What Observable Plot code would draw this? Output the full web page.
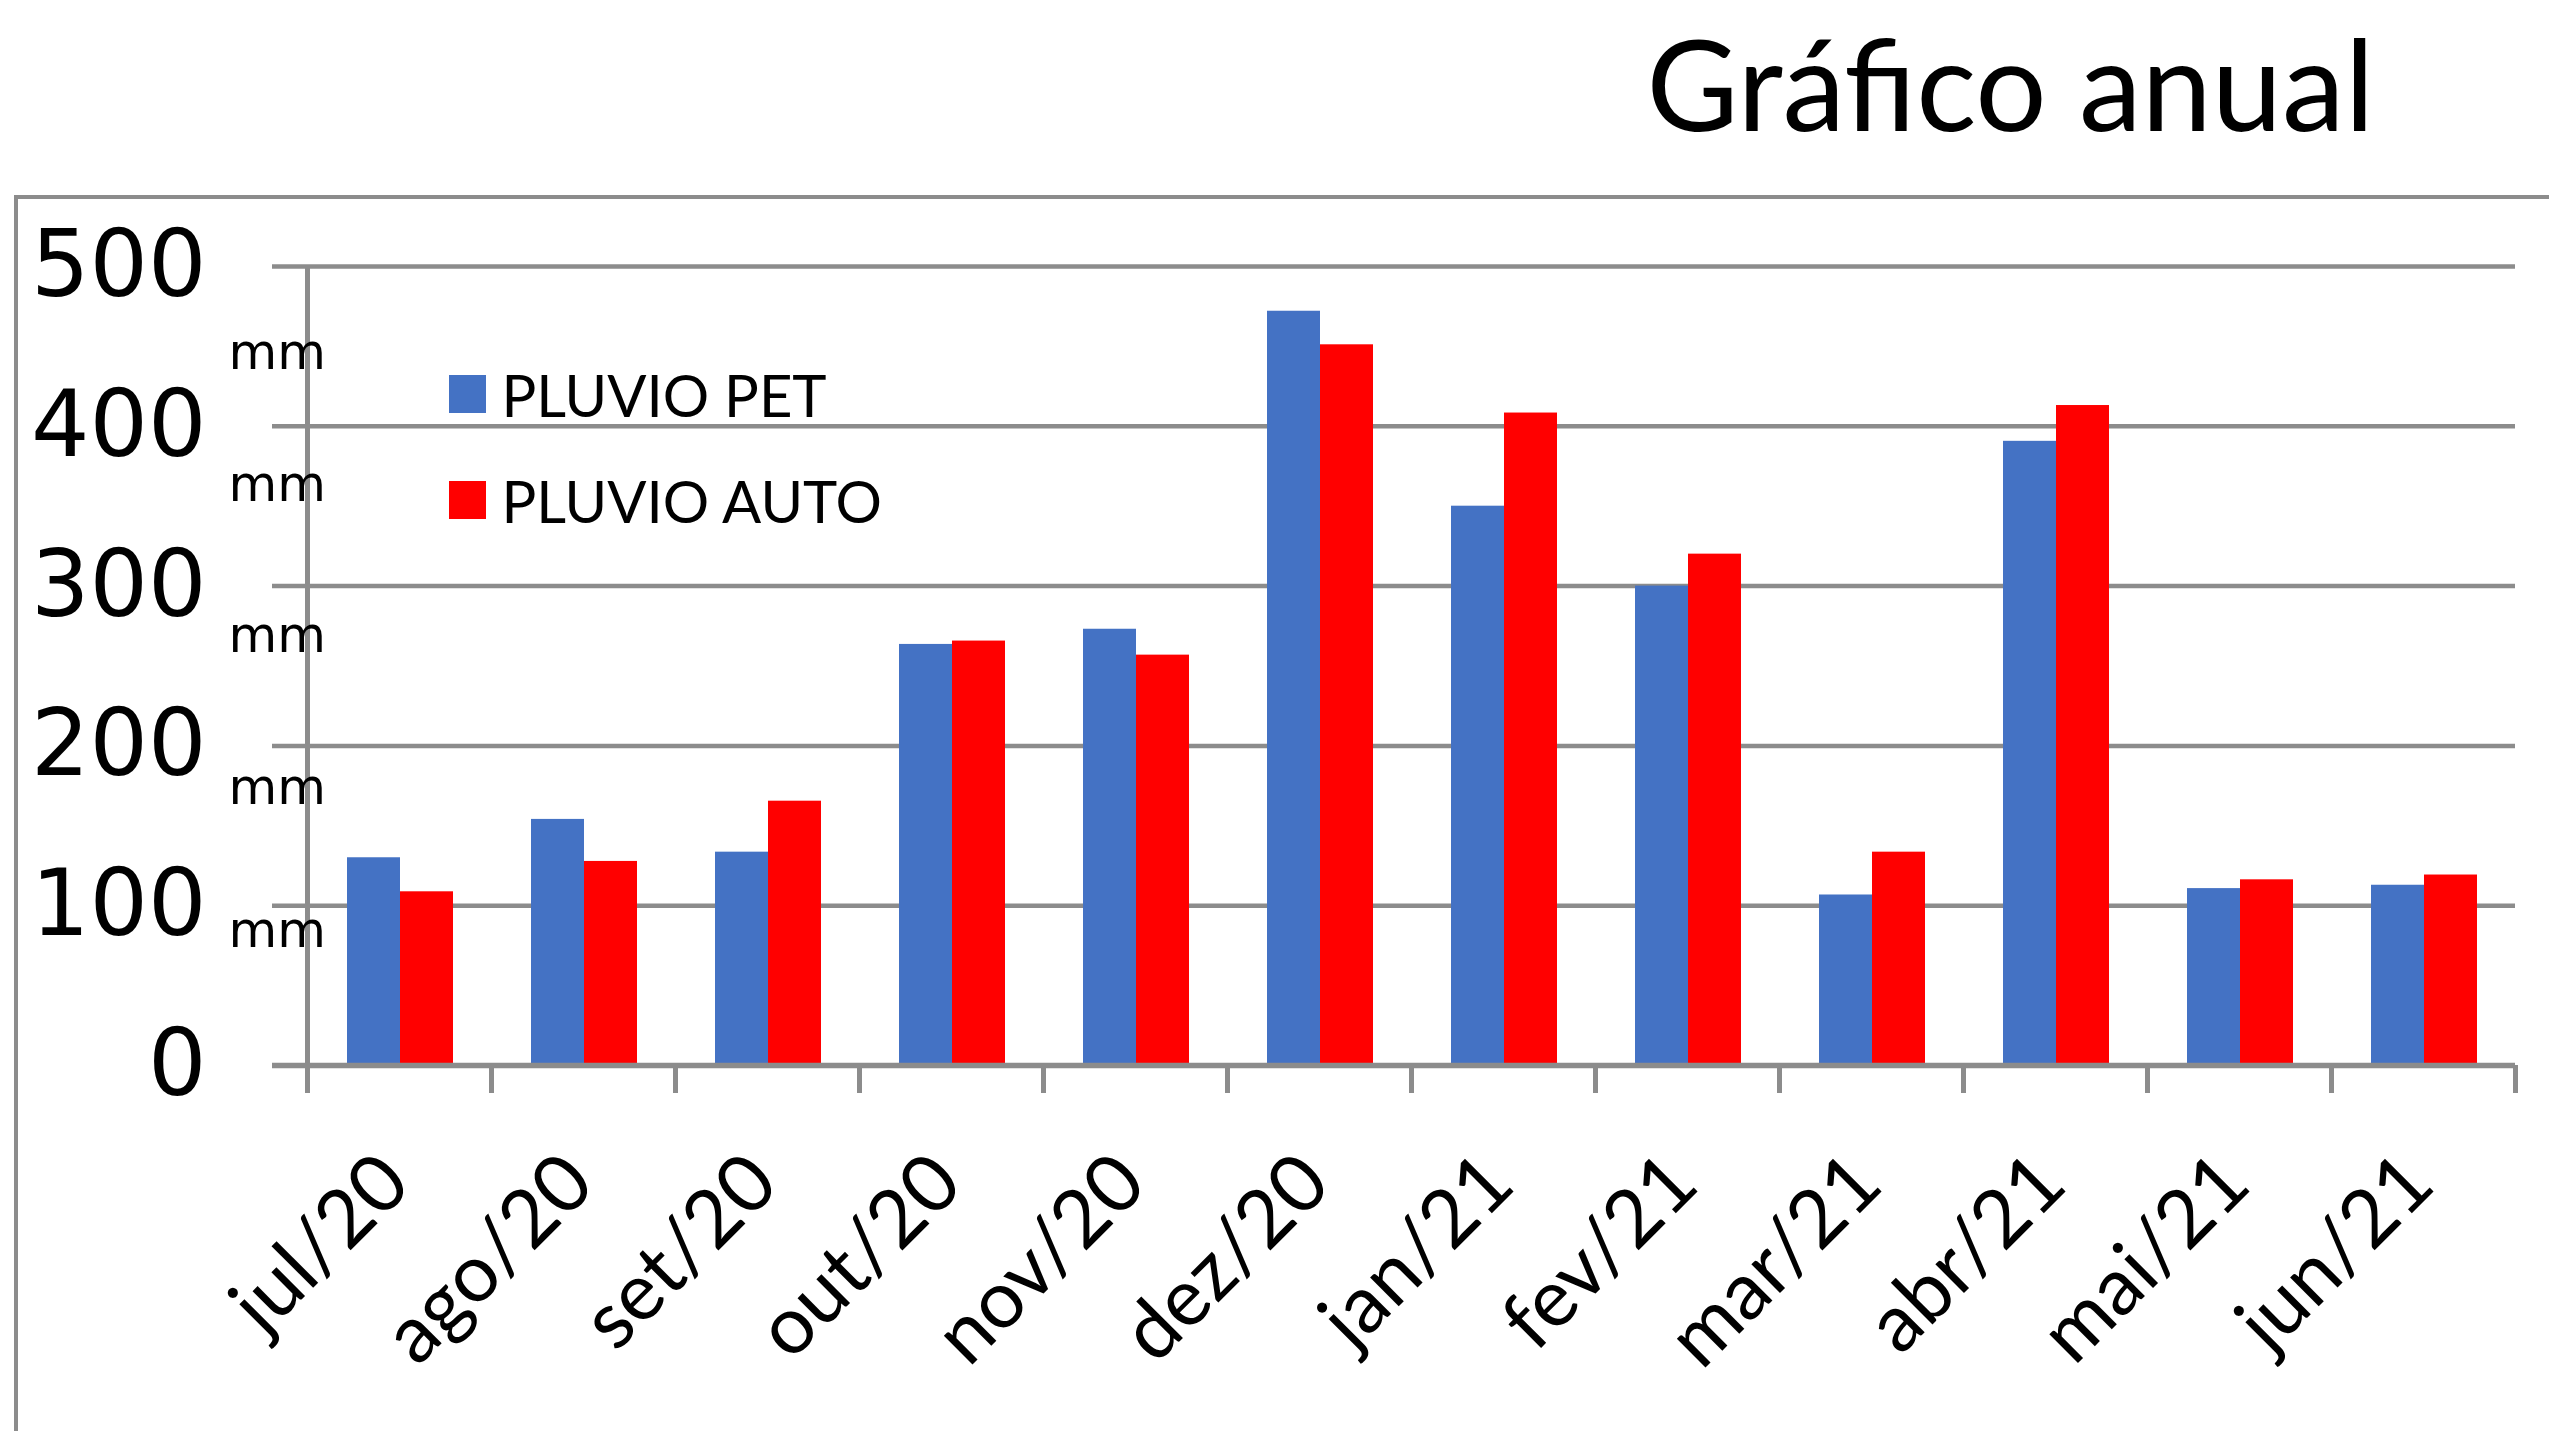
<!DOCTYPE html>
<html>
<head>
<meta charset="utf-8">
<script src="https://cdn.jsdelivr.net/npm/d3@7"></script>
<script src="https://cdn.jsdelivr.net/npm/@observablehq/plot@0.6"></script>
<style>
  html, body { margin: 0; padding: 0; background: #ffffff; }
  #wrap { position: relative; width: 2549px; height: 1431px; overflow: hidden; background: #ffffff; }
  #frame { position: absolute; left: 14px; top: 195px; width: 2549px; height: 1300px;
           border-top: 4px solid #8c8c8c; border-left: 4px solid #8c8c8c; }
  .sw { position: absolute; width: 37px; height: 38px; }
  #wrap svg { position: absolute; left: 0; top: 0; }
</style>
</head>
<body>
<div id="wrap">
  <div id="frame"></div>
</div>
<script>
// ---- data ----
const months = ["jul/20","ago/20","set/20","out/20","nov/20","dez/20","jan/21","fev/21","mar/21","abr/21","mai/21","jun/21"];
const pluvioPet  = [130, 154, 133.5, 263.5, 273, 472, 350, 300, 106.7, 390.6, 110.7, 112.8];
const pluvioAuto = [108.7, 127.7, 165.4, 265.6, 256.8, 451, 408.3, 320, 133.5, 413, 116.2, 119.2];
const yTicks = [0, 100, 200, 300, 400, 500];
const yTickLabels = ["0", "100", "200", "300", "400", "500"];
const unitLabel = "mm";
const seriesNames = ["PLUVIO PET", "PLUVIO AUTO"];
const seriesColors = ["#4472C4", "#FF0000"];
const titleText = "Gráfico anual";

// ---- layout / style ----
const W = 2549, H = 1431;
const mL = 307, mR = 34, mT = 266, mB = 366;
const frameH = H - mT - mB;
const band = (W - mL - mR) / months.length;
const gray = "#8c8c8c";
const mmDy = {100: 25, 200: 42, 300: 50, 400: 59, 500: 86};

const rows = months.map((m, i) => ({month: m, pet: pluvioPet[i], auto: pluvioAuto[i]}));

const chart = Plot.plot({
  width: W, height: H,
  marginLeft: mL, marginRight: mR, marginTop: mT, marginBottom: mB,
  style: {background: "transparent", overflow: "visible"},
  x: {type: "band", domain: months, padding: 0, axis: null},
  y: {domain: [0, 500], axis: null},
  marks: [
    // grid lines
    Plot.ruleY(yTicks.filter(t => t > 0), {y: d => d, stroke: gray, strokeWidth: 4.5, insetLeft: -35}),
    // bars
    Plot.barY(rows, {x: "month", y: "pet", fill: seriesColors[0], insetLeft: 40, insetRight: band - 93}),
    Plot.barY(rows, {x: "month", y: "auto", fill: seriesColors[1], insetLeft: 93, insetRight: band - 146}),
    // baseline
    Plot.ruleY([0], {stroke: gray, strokeWidth: 5.5, insetLeft: -35}),
    // category tick marks at band edges
    Plot.ruleX(months, {x: d => d, dx: -band / 2, stroke: gray, strokeWidth: 5, insetTop: frameH, insetBottom: -28}),
    Plot.ruleX([months[months.length - 1]], {x: d => d, dx: band / 2, stroke: gray, strokeWidth: 5, insetTop: frameH, insetBottom: -28}),
    // vertical axis line
    Plot.ruleX([months[0]], {x: d => d, dx: -band / 2, stroke: gray, strokeWidth: 5, insetBottom: -28}),
    // y tick labels
    Plot.text(yTicks, {y: d => d, text: (d, i) => yTickLabels[i], frameAnchor: "left", dx: -101,
      textAnchor: "end", fontSize: 92, fontFamily: "DejaVu Sans", fill: "#000"}),
    // unit labels
    ...yTicks.filter(t => t > 0).map(t =>
      Plot.text([t], {y: d => d, text: () => unitLabel, frameAnchor: "left", dx: -79, dy: mmDy[t],
        textAnchor: "start", fontSize: 50, fontFamily: "DejaVu Sans", fill: "#000"})),
    // month labels
    Plot.text(months, {x: d => d, text: d => d, frameAnchor: "bottom", rotate: -45, textAnchor: "end",
      lineAnchor: "bottom", dx: 14, dy: 122, fontSize: 80, fontFamily: "Lato", fill: "#000"}),
    // legend labels
    Plot.text([seriesNames[0]], {text: d => d, frameAnchor: "top-left", dx: 194, dy: 150,
      textAnchor: "start", lineAnchor: "bottom", fontSize: 58, fontFamily: "Lato", fill: "#000"}),
    Plot.text([seriesNames[1]], {text: d => d, frameAnchor: "top-left", dx: 194, dy: 256,
      textAnchor: "start", lineAnchor: "bottom", fontSize: 58, fontFamily: "Lato", fill: "#000"}),
    // title
    Plot.text([titleText], {text: d => d, frameAnchor: "top-left", dx: 1339, dy: -136,
      textAnchor: "start", lineAnchor: "bottom", fontSize: 126, fontFamily: "Lato", fill: "#000"})
  ]
});

const wrap = document.getElementById("wrap");
wrap.appendChild(chart);
// legend swatches
[[375, 0], [481, 1]].forEach(([top, k]) => {
  const s = document.createElement("div");
  s.className = "sw";
  s.style.left = "449px";
  s.style.top = top + "px";
  s.style.background = seriesColors[k];
  wrap.appendChild(s);
});
</script>
</body>
</html>
